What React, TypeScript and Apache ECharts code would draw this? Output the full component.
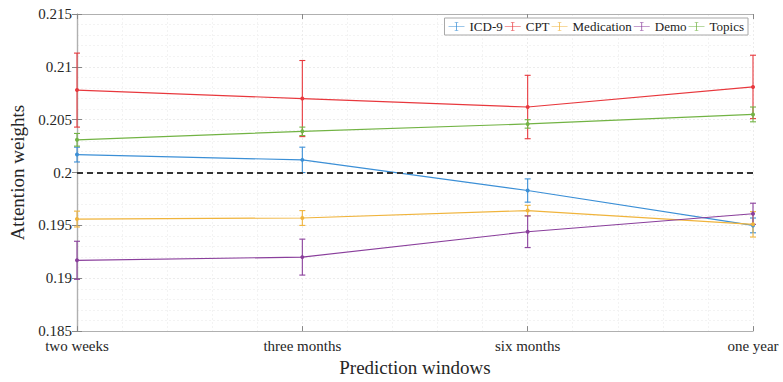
import React, { useEffect, useRef } from "react";
import * as echarts from "echarts";

const categories = ["two weeks", "three months", "six months", "one year"];
const seriesNames = ["ICD-9", "CPT", "Medication", "Demo", "Topics"];
const colors = ["#3b8fd6", "#e8383d", "#f0b43c", "#8a3f9c", "#72b344"];

const icd9 = [0.2017, 0.2012, 0.1983, 0.195];
const icd9Err = [0.0007, 0.0012, 0.0011, 0.0007];
const cpt = [0.2078, 0.207, 0.2062, 0.2081];
const cptErr = [0.0035, 0.0036, 0.003, 0.003];
const medication = [0.1956, 0.1957, 0.1964, 0.1951];
const medicationErr = [0.00075, 0.0007, 0.0005, 0.0012];
const demo = [0.1917, 0.192, 0.1944, 0.1961];
const demoErr = [0.0018, 0.0017, 0.0015, 0.001];
const topics = [0.2031, 0.2039, 0.2046, 0.2055];
const topicsErr = [0.0006, 0.0004, 0.0004, 0.0007];

const reference = 0.2;
const yTicks = [0.185, 0.19, 0.195, 0.2, 0.205, 0.21, 0.215];

const values = [icd9, cpt, medication, demo, topics];
const errors = [icd9Err, cptErr, medicationErr, demoErr, topicsErr];

const FONT = "Liberation Serif";
const legendIcon =
  "path://M0,6.5 H22 V7.5 H0 Z M10.5,1 H11.5 V13 H10.5 Z M8.5,1 H13.5 V2 H8.5 Z M8.5,12 H13.5 V13 H8.5 Z";

function fmt(v: number) {
  return String(parseFloat(v.toFixed(3)));
}

export default function App() {
  const ref = useRef<HTMLDivElement>(null);
  useEffect(() => {
    if (!ref.current) return;
    const chart = echarts.init(ref.current, undefined, { renderer: "svg" });
    const series: any[] = [];
    seriesNames.forEach((name, si) => {
      const color = colors[si];
      series.push({
        type: "line",
        name,
        data: values[si].map((v, i) => [i, v]),
        symbol: "circle",
        symbolSize: 4,
        itemStyle: { color },
        lineStyle: { color, width: 1.2 },
        z: 3,
        markLine:
          si === 0
            ? {
                silent: true,
                symbol: "none",
                label: { show: false },
                lineStyle: { type: [6, 4], color: "#333", width: 2 },
                data: [{ yAxis: reference }],
              }
            : undefined,
      });
      series.push({
        type: "custom",
        name,
        data: values[si].map((v, i) => [i, v - errors[si][i], v + errors[si][i]]),
        encode: { x: 0, y: [1, 2] },
        z: 2,
        renderItem: (params: any, api: any) => {
          const x = api.value(0);
          const lo = api.coord([x, api.value(1)]);
          const hi = api.coord([x, api.value(2)]);
          const w = 3;
          const style = { stroke: color, lineWidth: 1.1 };
          return {
            type: "group",
            children: [
              { type: "line", shape: { x1: lo[0], y1: lo[1], x2: hi[0], y2: hi[1] }, style },
              { type: "line", shape: { x1: lo[0] - w, y1: lo[1], x2: lo[0] + w, y2: lo[1] }, style },
              { type: "line", shape: { x1: hi[0] - w, y1: hi[1], x2: hi[0] + w, y2: hi[1] }, style },
            ],
          };
        },
      });
    });

    const axisLine = { show: true, lineStyle: { color: "#b0b0b0", width: 1.2 } };
    const splitLine = { show: true, lineStyle: { color: "#ececec", type: [2, 2], width: 1 } };
    const minorSplitLine = { show: true, lineStyle: { color: "#f3f3f3", type: [2, 2], width: 1 } };
    const legendText = { fontFamily: FONT, fontSize: 13, color: "#222" };

    chart.setOption({
      animation: false,
      backgroundColor: "#ffffff",
      textStyle: { fontFamily: FONT },
      grid: { left: 77, right: 30, top: 14, bottom: 50, containLabel: false },
      legend: {
        data: seriesNames.map((n) => ({ name: n, icon: legendIcon })),
        right: 35,
        top: 18,
        itemWidth: 16,
        itemHeight: 14,
        itemGap: 2,
        padding: [2, 4],
        borderColor: "#a8a8a8",
        borderWidth: 1,
        backgroundColor: "#ffffff",
        formatter: (n: string) => "{t|" + n + "}",
        textStyle: {
          ...legendText,
          rich: { t: { ...legendText } },
        },
      },
      xAxis: [
        {
          type: "value",
          min: 0,
          max: 3,
          interval: 1,
          name: "Prediction windows",
          nameLocation: "middle",
          nameGap: 25,
          nameTextStyle: { fontFamily: FONT, fontSize: 19, color: "#262626" },
          axisLine,
          axisTick: { show: true, inside: true, length: 5, lineStyle: { color: "#888" } },
          axisLabel: {
            formatter: (v: number) => categories[v] ?? "",
            fontFamily: FONT,
            fontSize: 15,
            color: "#262626",
            margin: 7,
            showMinLabel: true,
            showMaxLabel: true,
          },
          splitLine,
          minorTick: { show: false, splitNumber: 5 },
          minorSplitLine,
        },
        {
          type: "value",
          position: "top",
          min: 0,
          max: 3,
          interval: 1,
          axisLine,
          axisTick: { show: true, inside: true, length: 5, lineStyle: { color: "#888" } },
          axisLabel: { show: false },
          splitLine: { show: false },
        },
      ],
      yAxis: [
        {
          type: "value",
          min: yTicks[0],
          max: yTicks[yTicks.length - 1],
          interval: 0.005,
          name: "Attention weights",
          nameLocation: "middle",
          nameGap: 46,
          nameTextStyle: { fontFamily: FONT, fontSize: 19, color: "#262626" },
          axisLine,
          axisTick: { show: true, inside: true, length: 5, lineStyle: { color: "#888" } },
          axisLabel: {
            formatter: (v: number) => fmt(v),
            fontFamily: FONT,
            fontSize: 15,
            color: "#262626",
            margin: 5,
          },
          splitLine,
          minorTick: { show: false, splitNumber: 5 },
          minorSplitLine,
        },
        {
          type: "value",
          position: "right",
          min: yTicks[0],
          max: yTicks[yTicks.length - 1],
          interval: 0.005,
          axisLine,
          axisTick: { show: true, inside: true, length: 5, lineStyle: { color: "#888" } },
          axisLabel: { show: false },
          splitLine: { show: false },
        },
      ],
      series,
    });
    return () => chart.dispose();
  }, []);
  return (
    <div
      ref={ref}
      style={{ position: "fixed", left: 0, top: 0, width: 783, height: 382 }}
    />
  );
}
